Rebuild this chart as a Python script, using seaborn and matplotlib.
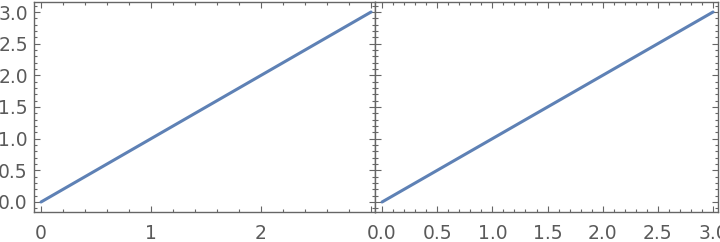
import matplotlib
matplotlib.use("Agg")
import matplotlib.pyplot as plt
import seaborn as sns
import numpy as np
from matplotlib.ticker import MultipleLocator

sns.set_theme(style="white")
plt.rcParams['font.family'] = ['DejaVu Sans']

x_vals = [0, 3]
y_vals = [0, 3]
left_xticks = [0, 1, 2, 3]
left_xticklabels = ["0", "1", "2", ""]
right_xticks = [0.0, 0.5, 1.0, 1.5, 2.0, 2.5, 3.0]
yticks = [0.0, 0.5, 1.0, 1.5, 2.0, 2.5, 3.0]

line_color = "#5E81B5"
gray = "#666666"
text_gray = "#5a5a5a"

fig = plt.figure(figsize=(7.2, 2.42), dpi=100)
ax1 = fig.add_axes([34/720, 1-212/242, (375-34)/720, 210/242])
ax2 = fig.add_axes([375/720, 1-212/242, (718-375)/720, 210/242])

for ax in (ax1, ax2):
    sns.lineplot(x=x_vals, y=y_vals, ax=ax, color=line_color, linewidth=2.2)
    ax.set_ylim(-0.158, 3.158)
    for s in ax.spines.values():
        s.set_color(gray)
        s.set_linewidth(1.0)
    ax.set_yticks(yticks)
    ax.yaxis.set_minor_locator(MultipleLocator(0.1))
    ax.tick_params(which='both', direction='in', top=True, right=True,
                   bottom=True, left=True, colors=gray, labelcolor=text_gray,
                   labelsize=13.5, width=0.8)
    ax.tick_params(which='major', length=4.5)
    ax.tick_params(which='minor', length=2.5)
    ax.set_xlabel("")
    ax.set_ylabel("")
    ax.grid(False)

ax1.set_xlim(-0.064, 3.036)
ax1.set_xticks(left_xticks)
ax1.set_xticklabels(left_xticklabels)
ax1.xaxis.set_minor_locator(MultipleLocator(0.2))
ax1.set_yticklabels([f"{v:.1f}" for v in yticks])
ax1.tick_params(axis='y', pad=4.5)

ax2.set_xlim(-0.064, 3.045)
ax2.set_xticks(right_xticks)
ax2.set_xticklabels([f"{v:.1f}" for v in right_xticks])
ax2.xaxis.set_minor_locator(MultipleLocator(0.1))
ax2.tick_params(axis='y', labelleft=False)

for ax in (ax1, ax2):
    ax.tick_params(axis='x', pad=8.5)

fig.savefig("out.png", dpi=100)
